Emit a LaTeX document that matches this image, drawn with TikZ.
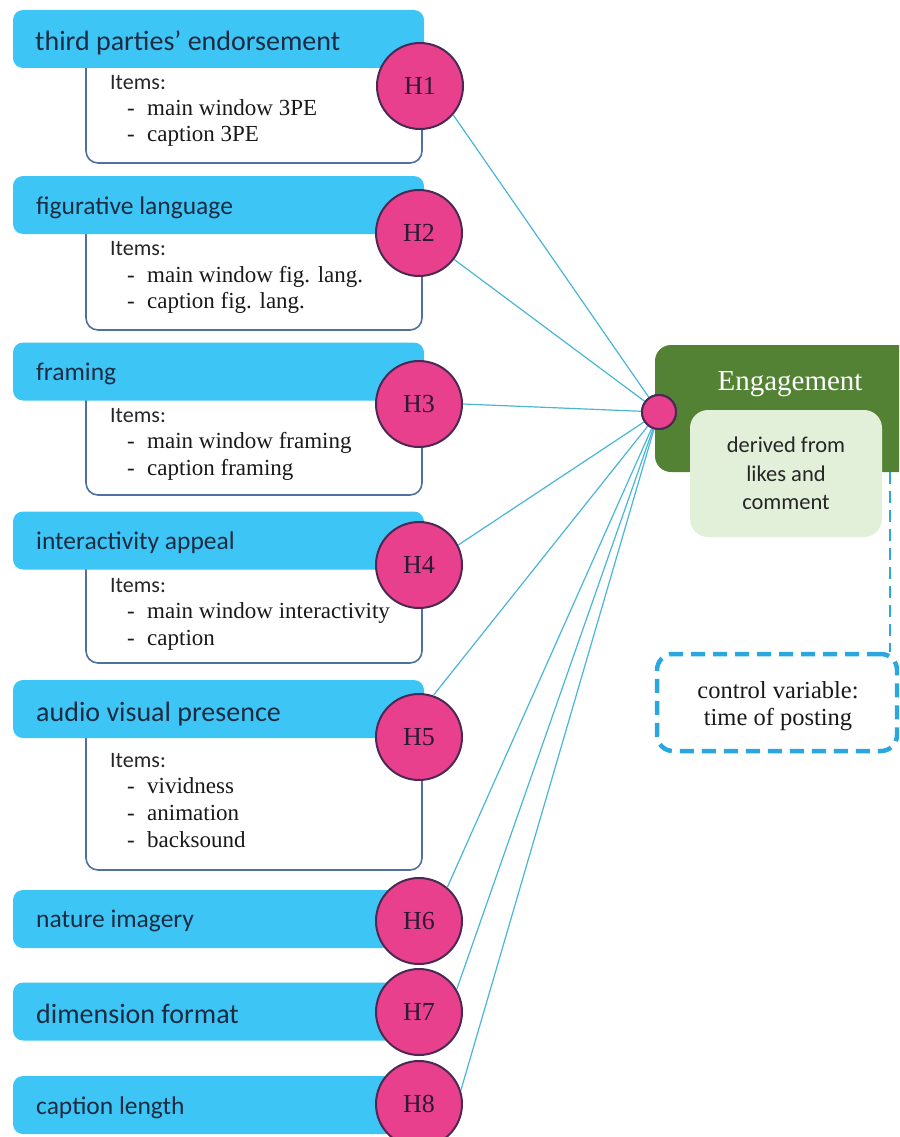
\documentclass[tikz,border=0pt]{standalone}
\usepackage{fontspec}
\setmainfont{Liberation Serif}
\newfontfamily\calib{Carlito}
\newfontfamily\tnr{Liberation Serif}
\definecolor{hdrblue}{HTML}{3DC6F5}
\definecolor{hdrtext}{HTML}{1C2B42}
\definecolor{itemborder}{HTML}{5070A2}
\definecolor{hpink}{HTML}{E8408C}
\definecolor{hborder}{HTML}{4A2A55}
\definecolor{linkblue}{HTML}{48B6D4}
\definecolor{enggreen}{HTML}{548235}
\definecolor{lightgreen}{HTML}{E2EFD9}
\definecolor{dashblue}{HTML}{2AA7DF}
\begin{document}
\begin{tikzpicture}[x=1pt,y=-1pt,
  hdr/.style={fill=hdrblue, rounded corners=10pt, minimum width=411pt, minimum height=58pt, inner sep=0pt},
  bigtxt/.style={anchor=base west, inner sep=0pt, text=hdrtext, font=\calib\fontsize{28}{30}\selectfont},
  smalltxt/.style={anchor=base west, inner sep=0pt, text=hdrtext, font=\calib\fontsize{25.5}{28}\selectfont},
  itembox/.style={draw=itemborder, line width=1.6pt, fill=white, rounded corners=12pt, inner sep=0pt, minimum width=336pt},
  itemhead/.style={anchor=base west, inner sep=0pt, text=black!85, font=\calib\fontsize{22}{24}\selectfont},
  itemline/.style={anchor=base west, inner sep=0pt, text=black!90, font=\tnr\fontsize{23}{25}\selectfont},
  hyp/.style={circle, fill=hpink, draw=hborder, line width=2pt, minimum size=86pt, inner sep=0pt, text=hborder!60!black, font=\tnr\fontsize{26}{26}\selectfont},
  ctrltxt/.style={anchor=base, inner sep=0pt, text=black!90, font=\tnr\fontsize{24.5}{27}\selectfont},
  link/.style={draw=linkblue, line width=1.2pt}
]
\useasboundingbox (0,0) rectangle (899,1137);
\clip (0,0) rectangle (899,1137);

% ---------- item boxes (behind headers) ----------
\node[itembox, minimum height=113pt] (i1) at (254,106.5) {};
\node[itembox, minimum height=114pt] (i2) at (254,273) {};
\node[itembox, minimum height=112pt] (i3) at (254,439) {};
\node[itembox, minimum height=111pt] (i4) at (254,607.5) {};
\node[itembox, minimum height=150pt] (i5) at (254,795) {};

% ---------- headers ----------
\node[hdr] (h1) at (218.5,39) {};
\node[hdr] (h2) at (218.5,205) {};
\node[hdr] (h3) at (218.5,371.5) {};
\node[hdr] (h4) at (218.5,540.5) {};
\node[hdr] (h5) at (218.5,709) {};
\node[hdr] (h6) at (218.5,919) {};
\node[hdr] (h7) at (218.5,1011.5) {};
\node[hdr] (h8) at (218.5,1105) {};

\node[bigtxt]   (t1) at (35,51)    {third parties’ endorsement};
\node[smalltxt] (t2) at (36,214)   {figurative language};
\node[smalltxt] (t3) at (36,380.5) {framing};
\node[smalltxt] (t4) at (36,549.5) {interactivity appeal};
\node[bigtxt]   (t5) at (36,721)   {audio visual presence};
\node[smalltxt] (t6) at (36,927)   {nature imagery};
\node[bigtxt]   (t7) at (36,1023)  {dimension format};
\node[smalltxt] (t8) at (36,1114)  {caption length};

% ---------- item texts ----------
\node[itemhead] (a1) at (110,90) {Items:};
\node[itemline] (a1a) at (127,116) {-};
\node[itemline] (b1a) at (147,116) {main window 3PE};
\node[itemline] (a1b) at (127,142) {-};
\node[itemline] (b1b) at (147,142) {caption 3PE};

\node[itemhead] (a2) at (110,255) {Items:};
\node[itemline] (a2a) at (127,282) {-};
\node[itemline] (b2a) at (147,282) {main window fig. lang.};
\node[itemline] (a2b) at (127,308) {-};
\node[itemline] (b2b) at (147,308) {caption fig. lang.};

\node[itemhead] (a3) at (110,422) {Items:};
\node[itemline] (a3a) at (127,448) {-};
\node[itemline] (b3a) at (147,448) {main window framing};
\node[itemline] (a3b) at (127,475) {-};
\node[itemline] (b3b) at (147,475) {caption framing};

\node[itemhead] (a4) at (110,592) {Items:};
\node[itemline] (a4a) at (127,618) {-};
\node[itemline] (b4a) at (147,618) {main window interactivity};
\node[itemline] (a4b) at (127,645) {-};
\node[itemline] (b4b) at (147,645) {caption};

\node[itemhead] (a5) at (110,767) {Items:};
\node[itemline] (a5a) at (127,793) {-};
\node[itemline] (b5a) at (147,793) {vividness};
\node[itemline] (a5b) at (127,820) {-};
\node[itemline] (b5b) at (147,820) {animation};
\node[itemline] (a5c) at (127,847) {-};
\node[itemline] (b5c) at (147,847) {backsound};

% ---------- hypothesis circles ----------
\node[hyp] (H1) at (420,86) {H1};
\node[hyp] (H2) at (419,233) {H2};
\node[hyp] (H3) at (419,404) {H3};
\node[hyp] (H4) at (419,565) {H4};
\node[hyp] (H5) at (419,737) {H5};
\node[hyp] (H6) at (419,921) {H6};
\node[hyp] (H7) at (419,1012) {H7};
\node[hyp] (H8) at (419,1104) {H8};

% ---------- engagement ----------
\node[fill=enggreen, rounded corners=16pt, minimum width=260pt, minimum height=127pt, inner sep=0pt] (eng) at (785,408.5) {};
\node[anchor=base, inner sep=0pt, text=white, font=\tnr\fontsize{29}{30}\selectfont] (engt) at (790,390) {Engagement};
\node[fill=lightgreen, rounded corners=18pt, minimum width=192pt, minimum height=127pt, inner sep=0pt, align=center, text=black!85, font=\calib\fontsize{22.5}{28.5}\selectfont] (der) at (786,473.5) {derived from\\likes and\\comment};

% ---------- control variable ----------
\node[draw=dashblue, line width=4.5pt, dash pattern=on 14pt off 8pt, rounded corners=16pt, minimum width=240pt, minimum height=97pt, inner sep=0pt] (ctrl) at (777,702.5) {};
\node[ctrltxt] (c1) at (778,698) {control variable:};
\node[ctrltxt] (c2) at (778,725) {time of posting};
\coordinate (d1) at (890,472);
\draw[dashblue, line width=2.8pt, dash pattern=on 12pt off 7pt] (d1) -- (d1 |- ctrl.north);

% ---------- junction and links ----------
\node[circle, fill=hpink, draw=hborder, line width=2pt, minimum size=34pt, inner sep=0pt] (J) at (659,412) {};
\draw[link] (H1.-41) -- (J);
\draw[link] (H2.-37) -- (J);
\draw[link] (H3.east) -- (J);
\draw[link] (H4.27) -- (J);
\draw[link] (H5.71) -- (J);
\draw[link] (H6.50) -- (J);
\draw[link] (H7.31) -- (J);
\draw[link] (H8.18) -- (J);
\node[circle, fill=hpink, draw=hborder, line width=2pt, minimum size=34pt, inner sep=0pt] at (J) {};
\end{tikzpicture}
\end{document}
